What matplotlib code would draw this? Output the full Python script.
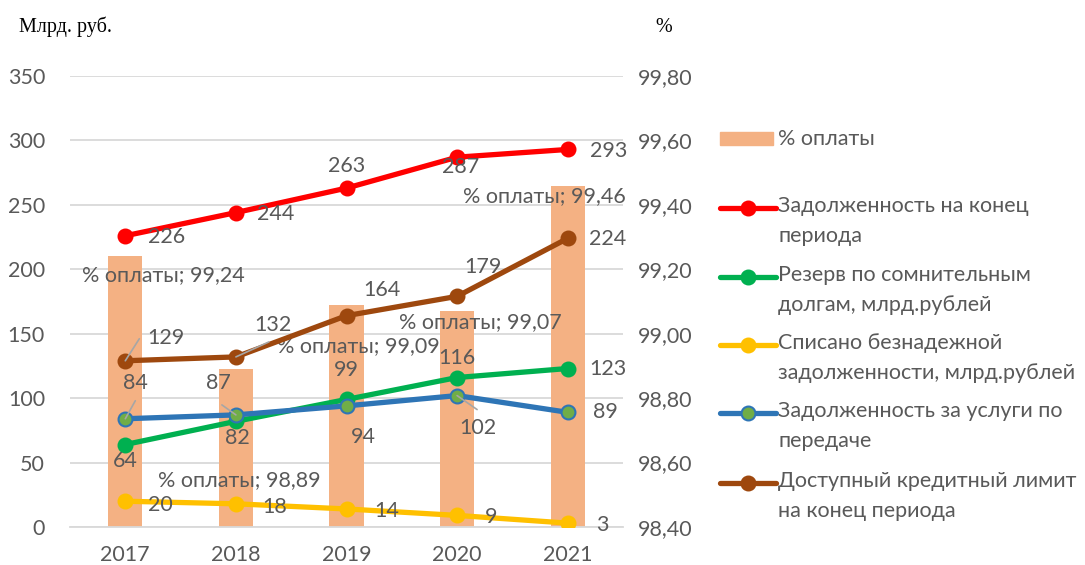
import matplotlib
matplotlib.use("Agg")
import matplotlib.pyplot as plt
from matplotlib.lines import Line2D
from matplotlib.patches import Rectangle
from matplotlib.ticker import FuncFormatter, MultipleLocator

# data
years = ["2017", "2018", "2019", "2020", "2021"]
pay_pct = [99.24, 98.89, 99.09, 99.07, 99.46]
debt_end = [226, 244, 263, 287, 293]
reserve = [64, 82, 99, 116, 123]
written_off = [20, 18, 14, 9, 3]
debt_transfer = [84, 87, 94, 102, 89]
credit_limit = [129, 132, 164, 179, 224]

bar_name = "% оплаты"
series_names = [
    "Задолженность на конец\nпериода",
    "Резерв по сомнительным\nдолгам, млрд.рублей",
    "Списано безнадежной\nзадолженности, млрд.рублей",
    "Задолженность за услуги по\nпередаче",
    "Доступный кредитный лимит\nна конец периода",
]

plt.rcParams["font.family"] = ["Lato", "DejaVu Sans"]
txt = "#595959"
fs = 15.5

fig = plt.figure(figsize=(10.85, 5.65), dpi=100)
ax_r = fig.add_axes([70 / 1085, 38 / 565, 553 / 1085, 451 / 565])
ax = ax_r.twinx()
ax.set_zorder(ax_r.get_zorder() + 1)
ax.patch.set_visible(False)

x = list(range(len(years)))

# bars on the right (percent) axis
ax_r.bar(x, pay_pct, width=0.31, color="#F4B183", zorder=2)
ax_r.set_ylim(98.4, 99.8)
ax_r.set_xlim(-0.5, 4.5)
ax_r.yaxis.set_major_locator(MultipleLocator(0.2))
ax_r.grid(axis="y", color="#D9D9D9", lw=1.3, zorder=0)
ax_r.set_axisbelow(True)

# lines on the left axis
ax.set_ylim(0, 350)
ax.yaxis.set_major_locator(MultipleLocator(50))

series = [debt_end, reserve, written_off, debt_transfer, credit_limit]
colors = ["#FF0000", "#00B050", "#FFC000", "#2E75B6", "#9E480E"]
faces = ["#FF0000", "#00B050", "#FFC000", "#70AD47", "#9E480E"]
for vals, c, fc in zip(series, colors, faces):
    ax.plot(x, vals, color=c, lw=3.8, marker="o", ms=10, mfc=fc,
            mec=c, mew=1.5, zorder=3, solid_capstyle="round")

# swap ticks: left axis shows money, right axis shows percent
ax.yaxis.tick_left()
ax_r.yaxis.tick_right()
ax.yaxis.set_major_formatter(FuncFormatter(lambda v, p: f"{v:.0f}"))
ax_r.yaxis.set_major_formatter(FuncFormatter(lambda v, p: f"{v:.2f}".replace(".", ",")))
for a in (ax, ax_r):
    a.tick_params(length=0, labelsize=fs, labelcolor=txt)
    for s in a.spines.values():
        s.set_visible(False)
ax.tick_params(axis="y", pad=18)
ax_r.tick_params(axis="y", pad=11)
ax_r.set_xticks(x)
ax_r.set_xticklabels(years)
ax_r.tick_params(axis="x", pad=13)
ax_r.spines["bottom"].set_visible(True)
ax_r.spines["bottom"].set_color("#D9D9D9")
ax_r.spines["bottom"].set_linewidth(1.3)

# label offsets in pixels (dx, dy)
offs = [
    [(41, -1), (40, -1), (0, 22), (4, -10), (41, -2)],
    [(0, -16), (1, -17), (0, 29), (0, 20), (40, 0)],
    [(35, -4), (39, -3), (40, -2), (34, -2), (35, -2)],
    [(10, 36), (-17, 32), (17, -31), (21, -32), (38, 0)],
    [(41, 23), (37, 32), (35, 26), (26, 29), (40, -1)],
]
leaders = {(3, 0): (10, 18), (3, 1): (-14, 10), (3, 3): (20, -14),
           (4, 0): (14, 22), (4, 1): (33, 15)}
for si, vals in enumerate(series):
    for i, v in enumerate(vals):
        dx, dy = offs[si][i]
        ax.annotate(str(v), (i, v), xytext=(dx, dy), textcoords="offset pixels",
                    ha="center", va="center", fontsize=fs, color=txt, zorder=5)
        if (si, i) in leaders:
            lx, ly = leaders[(si, i)]
            ax.annotate("", (i, v), xytext=(lx, ly), textcoords="offset pixels",
                        arrowprops=dict(arrowstyle="-", color="#A6A6A6", lw=1.2,
                                        shrinkA=0, shrinkB=0), zorder=4)

bar_offs = [(38, -19), (3, -111), (12, -41), (23, -11), (-23, -11)]
for i, v in enumerate(pay_pct):
    dx, dy = bar_offs[i]
    ax_r.annotate(f"{bar_name}; {v:.2f}".replace(".", ","), (i, v), xytext=(dx, dy),
                  textcoords="offset pixels", ha="center", va="center",
                  fontsize=fs, color=txt, zorder=5, annotation_clip=False)

# axis unit titles
fig.text(19 / 1085, 1 - 27 / 565, "Млрд. руб.", fontsize=14.5,
         family="Liberation Serif", va="center")
fig.text(655 / 1085, 1 - 27 / 565, "%", fontsize=14.5,
         family="Liberation Serif", va="center")

# manual legend
W, H = 1085, 565
fig.patches.append(Rectangle((720 / W, 1 - 145 / H), 53 / W, 13 / H,
                             transform=fig.transFigure, color="#F4B183"))
fig.text(778 / W, 1 - 139 / H, bar_name, fontsize=fs, color=txt, va="center")
ys = [208, 277, 345, 413, 483]
for name, c, fc, yy in zip(series_names, colors, faces, ys):
    fig.add_artist(Line2D([720 / W, 776 / W], [1 - yy / H] * 2, color=c, lw=3.8,
                          transform=fig.transFigure, solid_capstyle="round"))
    fig.add_artist(Line2D([748 / W], [1 - yy / H], marker="o", ms=10, mfc=fc,
                          mec=c, mew=1.5, transform=fig.transFigure))
    fig.text(778 / W, 1 - (yy - 12) / H, name, fontsize=fs, color=txt,
             va="top", linespacing=1.62)

fig.savefig("out.png", dpi=100)
